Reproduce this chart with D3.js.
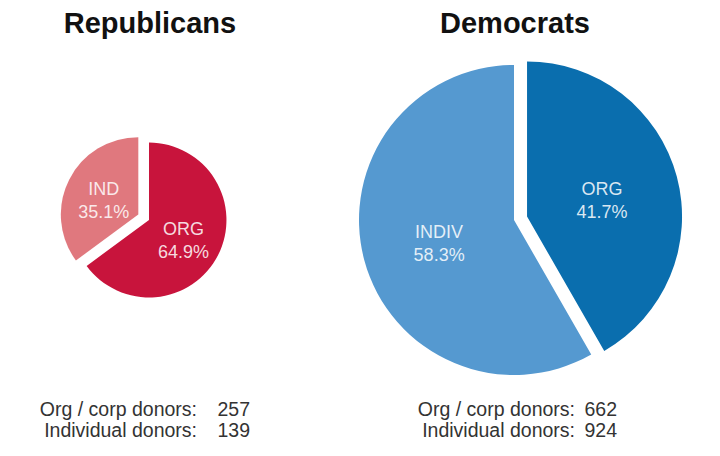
<!DOCTYPE html>
<html lang="en">
<head>
    <meta charset="UTF-8">
    <script src="https://cdn.jsdelivr.net/npm/d3@7"></script>
    <style>
        body{ margin:0; background:#fff; }
        svg text{ font-family:"Liberation Sans", Arial, sans-serif; }
        .title{ font-weight:bold; font-size:29px; fill:#111; text-anchor:middle; }
        .slice-label{ font-size:18px; fill:#fff; fill-opacity:0.85; text-anchor:middle; }
        .donor{ font-size:19.5px; fill:#333; text-anchor:end; }
    </style>
    <title>Donors by party</title>
</head>
<body>
    <script>
        var parties = ["Republicans", "Democrats"];
        var repSlices = ["ORG", "IND"];
        var repShares = [64.9, 35.1];
        var demSlices = ["ORG", "INDIV"];
        var demShares = [41.7, 58.3];
        var donorLabels = ["Org / corp donors:", "Individual donors:"];
        var repDonors = [257, 139];
        var demDonors = [662, 924];

        var width = 720, height = 456;

        var charts = [
            {name: parties[0], slices: repSlices, shares: repShares, donors: repDonors,
             cx: 149, cy: 220, explode: 1, offset: 12,
             colors: ["#c8143c", "#e0787e"], labelEnd: 48, valueEnd: 101},
            {name: parties[1], slices: demSlices, shares: demShares, donors: demDonors,
             cx: 514, cy: 220, explode: 0, offset: 13.5,
             colors: ["#0a6eae", "#5599d0"], labelEnd: 61, valueEnd: 103}
        ];

        // pie size follows total donors (area proportional)
        var maxTotal = d3.max(charts, function(c){ return d3.sum(c.donors); });
        var radius = d3.scaleSqrt().domain([0, maxTotal]).range([0, 155]);

        var pie = d3.pie().sort(null).value(function(d){ return d; });

        var svg = d3.select("body")
            .append("svg")
            .attr("width", width)
            .attr("height", height);

        charts.forEach(function(c){
            var r = radius(d3.sum(c.donors));
            var arc = d3.arc().innerRadius(0).outerRadius(r);
            var labelArc = d3.arc().innerRadius(r / 2).outerRadius(r / 2);
            var arcs = pie(c.shares);

            svg.append("text")
                .attr("class", "title")
                .attr("x", c.cx + 1)
                .attr("y", 33)
                .text(c.name);

            var g = svg.append("g")
                .attr("transform", "translate(" + c.cx + "," + c.cy + ")");

            var slice = g.selectAll("g.slice")
                .data(arcs)
                .enter()
                .append("g")
                .attr("class", "slice")
                .attr("transform", function(d, i){
                    if (i !== c.explode) return null;
                    var mid = (d.startAngle + d.endAngle) / 2;
                    return "translate(" + (Math.sin(mid) * c.offset) + "," + (-Math.cos(mid) * c.offset) + ")";
                });

            slice.append("path")
                .attr("d", arc)
                .attr("fill", function(d, i){ return c.colors[i]; });

            var label = slice.append("text")
                .attr("class", "slice-label")
                .attr("transform", function(d){
                    var p = labelArc.centroid(d);
                    return "translate(" + p[0] + "," + p[1] + ")";
                });
            label.append("tspan")
                .attr("x", 0)
                .attr("y", -2)
                .text(function(d, i){ return c.slices[i]; });
            label.append("tspan")
                .attr("x", 0)
                .attr("y", 21)
                .text(function(d){ return d.value.toFixed(1) + "%"; });

            var rows = svg.selectAll("g.row-" + c.explode)
                .data(c.donors)
                .enter()
                .append("g")
                .attr("transform", function(d, i){
                    return "translate(" + c.cx + "," + (416 + i * 21) + ")";
                });
            rows.append("text")
                .attr("class", "donor")
                .attr("x", c.labelEnd)
                .text(function(d, i){ return donorLabels[i]; });
            rows.append("text")
                .attr("class", "donor")
                .attr("x", c.valueEnd)
                .text(function(d){ return d; });
        });
    </script>
</body>
</html>
